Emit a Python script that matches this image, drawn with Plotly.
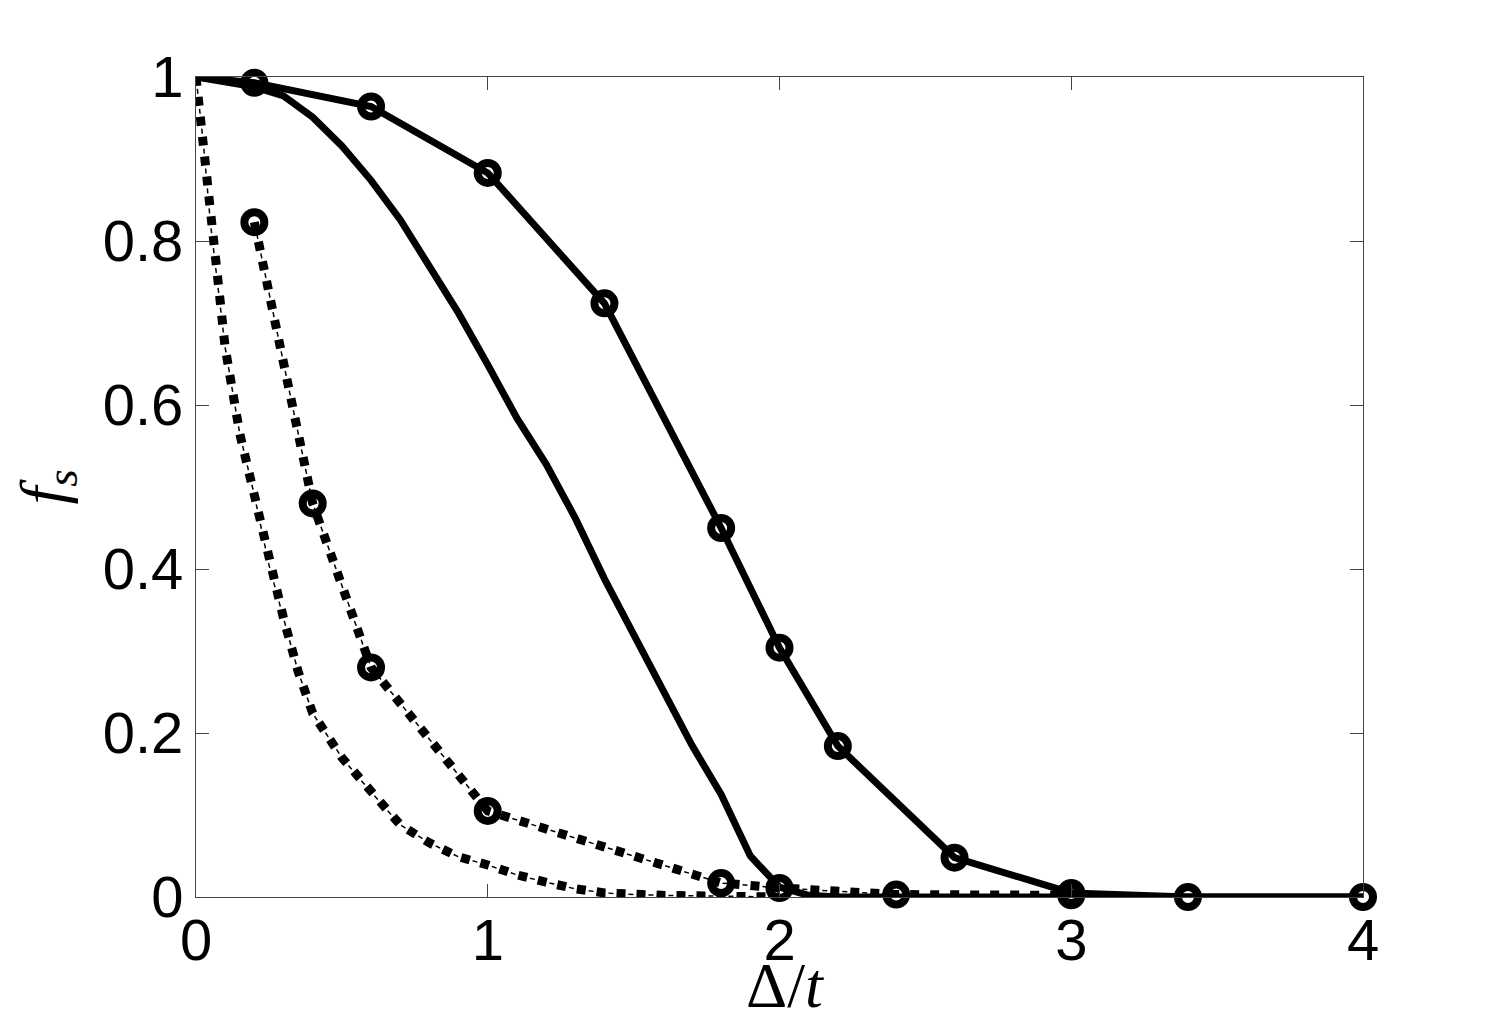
import plotly.graph_objects as go

# data
# solid line with circle markers
xa = [0.0, 0.2, 0.6, 1.0, 1.4, 1.8, 2.0, 2.2, 2.6, 3.0, 3.4, 4.0]
ya = [1.0, 0.993, 0.964, 0.883, 0.724, 0.45, 0.304, 0.184, 0.048, 0.005, 0.0, 0.0]

# solid line, no markers
xb = [0.0, 0.1, 0.2, 0.3, 0.4, 0.5, 0.6, 0.7, 0.8, 0.9, 1.0, 1.1, 1.2, 1.3,
      1.4, 1.5, 1.6, 1.7, 1.8, 1.9, 2.0, 2.1, 2.2, 3.0, 4.0]
yb = [1.0, 0.995, 0.988, 0.977, 0.951, 0.916, 0.874, 0.826, 0.770, 0.712,
      0.649, 0.584, 0.528, 0.462, 0.388, 0.319, 0.25, 0.185, 0.125, 0.05,
      0.012, 0.002, 0.0, 0.0, 0.0]

# dash-dot line with circle markers
xc = [0.2, 0.4, 0.6, 1.0, 1.8, 2.0, 2.4, 3.0]
yc = [0.823, 0.48, 0.28, 0.105, 0.017, 0.011, 0.003, 0.002]

# dash-dot line, no markers
xd = [0.0, 0.025, 0.05, 0.1, 0.15, 0.2, 0.25, 0.3, 0.35, 0.4, 0.5, 0.6, 0.7,
      0.8, 0.9, 1.0, 1.1, 1.2, 1.3, 1.4, 1.5, 1.6, 1.8, 2.0]
yd = [1.0, 0.92, 0.82, 0.67, 0.565, 0.49, 0.405, 0.34, 0.275, 0.224, 0.17,
      0.128, 0.088, 0.066, 0.049, 0.039, 0.027, 0.018, 0.01, 0.005, 0.003,
      0.002, 0.001, 0.0]

xticks = [0, 1, 2, 3, 4]
yticks = [0, 0.2, 0.4, 0.6, 0.8, 1]


def dashdot(fig, x, y):
    # thick square dashes plus thin dots in between
    fig.add_trace(go.Scatter(x=x, y=y, mode="lines", showlegend=False,
                             line=dict(color="black", width=9, dash="9px,11px")))
    fig.add_trace(go.Scatter(x=x, y=y, mode="lines", showlegend=False,
                             line=dict(color="black", width=1.5, dash="0px,12px,5px,3px")))


def circles(fig, x, y):
    fig.add_trace(go.Scatter(x=x, y=y, mode="markers", showlegend=False, cliponaxis=False,
                             marker=dict(symbol="circle-open", size=20, color="black",
                                         line=dict(width=8, color="black"))))


fig = go.Figure()

fig.add_trace(go.Scatter(x=xb, y=yb, mode="lines", showlegend=False,
                         line=dict(color="black", width=7)))
fig.add_trace(go.Scatter(x=xa, y=ya, mode="lines", showlegend=False,
                         line=dict(color="black", width=7)))
dashdot(fig, xd, yd)
dashdot(fig, xc, yc)
circles(fig, xa[1:], ya[1:])
circles(fig, xc, yc)

axis_common = dict(
    showgrid=False, zeroline=False, showline=True, mirror="ticks",
    linecolor="#444444", linewidth=1, ticks="inside", ticklen=13,
    tickcolor="#444444", tickwidth=1,
    tickfont=dict(family="Liberation Sans, Arial", size=58, color="black"),
)

fig.update_xaxes(range=[0, 4], tickvals=xticks, ticktext=[str(v) for v in xticks],
                 ticklabelstandoff=-8, **axis_common)
fig.update_yaxes(range=[0, 1], tickvals=yticks, ticktext=["0", "0.2", "0.4", "0.6", "0.8", "1"],
                 **axis_common)

title_font = dict(family="Liberation Serif, Times New Roman", size=64, color="black")
fig.add_annotation(text="Δ/<i>t</i>", xref="paper", yref="paper", x=0.505, y=-0.062,
                   xanchor="center", yanchor="top", showarrow=False, font=title_font)
fig.add_annotation(text="<i>f</i><sub><i>s</i></sub>", xref="paper", yref="paper",
                   x=-0.128, y=0.5, xanchor="center", yanchor="middle", textangle=-90,
                   showarrow=False, font=title_font)

fig.update_layout(
    width=1490, height=1013,
    margin=dict(l=188, r=135, t=69, b=124),
    paper_bgcolor="white", plot_bgcolor="white",
)

fig.write_html("out.html")
